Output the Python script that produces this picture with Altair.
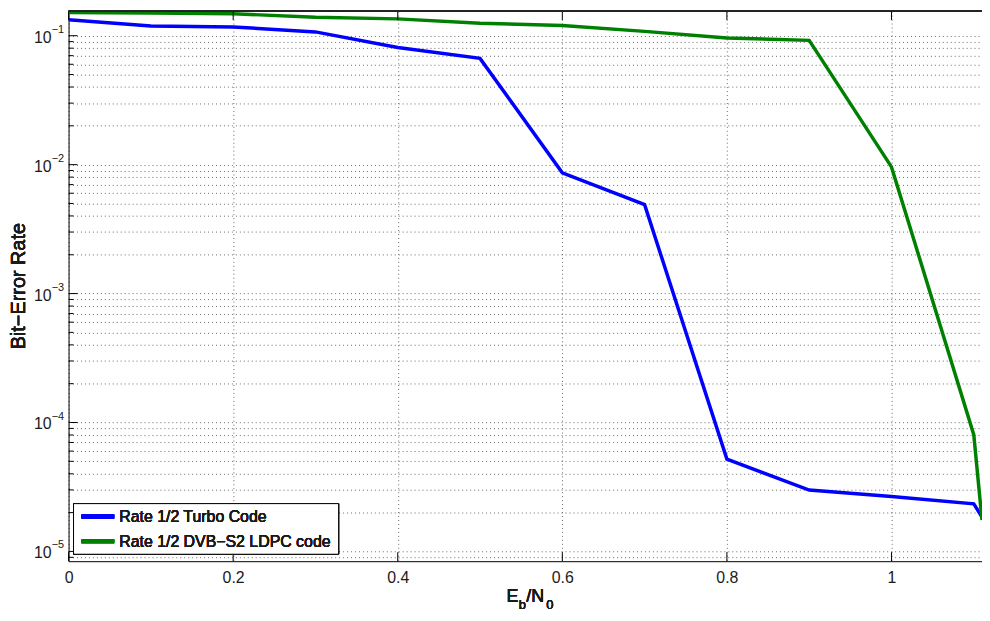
import altair as alt
import pandas as pd

# ---- data ----
ebn0 = [0.0, 0.1, 0.2, 0.3, 0.4, 0.5, 0.6, 0.7, 0.8, 0.9, 1.0, 1.1, 1.11]
ber_turbo = [0.133, 0.119, 0.117, 0.107, 0.081, 0.0667, 0.00865, 0.00489,
             5.2e-5, 2.99e-5, 2.67e-5, 2.34e-5, 1.85e-5]
ber_ldpc = [0.151, 0.150, 0.148, 0.139, 0.135, 0.125, 0.120, 0.108,
            0.096, 0.092, 0.0096, 8.05e-5, 1.75e-5]
series_names = ["Rate 1/2 Turbo Code", "Rate 1/2 DVB\u2212S2 LDPC code"]
series_colors = ["#0000ff", "#008000"]

x_ticks = [0.0, 0.2, 0.4, 0.6, 0.8, 1.0]
y_major = [1e-1, 1e-2, 1e-3, 1e-4, 1e-5]
y_exponents = ["\u22121", "\u22122", "\u22123", "\u22124", "\u22125"]
y_minor = [9e-6] + [m * d for d in [1e-5, 1e-4, 1e-3, 1e-2, 1e-1] for m in range(2, 10)]
y_minor = [v for v in y_minor if v <= 0.155]

X_DOMAIN = [0, 1.11]
Y_DOMAIN = [8.4e-6, 0.155]
W, H = 920, 554
FONT = "Liberation Sans"
TXT = "#1a1a1a"

xs = alt.Scale(domain=X_DOMAIN, nice=False, zero=False)
ys = alt.Scale(type="log", domain=Y_DOMAIN, nice=False)

grid_style = dict(grid=True, gridDash=[1, 3], gridColor="#6a6a6a", gridWidth=1,
                  domainColor="#000000", domainWidth=1, ticks=False)
x_axis = alt.Axis(values=x_ticks, labelFontSize=16, labelFont=FONT, labelColor=TXT,
                  labelFontWeight="normal", labelPadding=8, labelFlush=False,
                  labelExpr="datum.value == 0 ? '0' : format(datum.value, '.1~f')",
                  **grid_style)
y_axis = alt.Axis(values=y_major + y_minor, labels=False, **grid_style)


def X(field):
    return alt.X(field, type="quantitative", scale=xs, title=None, axis=x_axis)


def Y(field):
    return alt.Y(field, type="quantitative", scale=ys, title=None, axis=y_axis)


df = pd.DataFrame({
    "x": ebn0 * 2,
    "y": ber_turbo + ber_ldpc,
    "series": [series_names[0]] * len(ebn0) + [series_names[1]] * len(ebn0),
})
df_xt = pd.DataFrame({"x": x_ticks})
df_ymaj = pd.DataFrame({"y": y_major, "e": y_exponents})
df_ymin = pd.DataFrame({"y": y_minor})

# data lines (also carry the axes and grid)
lines = alt.Chart(df).mark_line(strokeWidth=3.5, clip=True).encode(
    x=X("x"),
    y=Y("y"),
    color=alt.Color("series:N", scale=alt.Scale(domain=series_names, range=series_colors),
                    legend=None),
    detail="series:N",
)

# inward ticks
xt_bottom = alt.Chart(df_xt).mark_rule(color="#000", strokeWidth=1).encode(
    x=X("x"), y=alt.value(H), y2=alt.value(H - 9))
xt_top = alt.Chart(df_xt).mark_rule(color="#000", strokeWidth=1).encode(
    x=X("x"), y=alt.value(0), y2=alt.value(9))
yt_major = alt.Chart(df_ymaj).mark_rule(color="#000", strokeWidth=1).encode(
    y=Y("y"), x=alt.value(0), x2=alt.value(9))
yt_minor = alt.Chart(df_ymin).mark_rule(color="#000", strokeWidth=1).encode(
    y=Y("y"), x=alt.value(0), x2=alt.value(5))
top_border = alt.Chart(df_xt).mark_rule(color="#222", strokeWidth=1.5).encode(
    x=alt.value(0), x2=alt.value(W + 1), y=alt.value(0))

# y labels 10^e
ylab_base = alt.Chart(df_ymaj).mark_text(align="right", baseline="middle", font=FONT,
                                         fontSize=16, fontWeight="normal", color=TXT,
                                         dy=2).encode(
    y=Y("y"), x=alt.value(-17), text=alt.value("10"))
ylab_exp = alt.Chart(df_ymaj).mark_text(align="left", baseline="middle", font=FONT,
                                        fontSize=11, fontWeight="normal", color=TXT,
                                        dy=-6).encode(
    y=Y("y"), x=alt.value(-17), text="e:N")

# legend (drawn manually)
leg_box = alt.Chart(df_xt).mark_rect(fill="white", stroke="#000", strokeWidth=1).encode(
    x=alt.value(5), x2=alt.value(272), y=alt.value(496), y2=alt.value(547))
leg_layers = []
for i, (name, col) in enumerate(zip(series_names, series_colors)):
    yy = 509 + 25 * i
    leg_layers.append(alt.Chart(df_xt).mark_rule(color=col, strokeWidth=4).encode(
        x=alt.value(13), x2=alt.value(46), y=alt.value(yy)))
    leg_layers.append(alt.Chart(df_xt).mark_text(align="left", baseline="middle", font=FONT,
                                                 fontSize=16, fontWeight="normal",
                                                 color=TXT).encode(
        x=alt.value(51), y=alt.value(yy + 1), text=alt.value(name)))


def txt(s, x, y, size, **kw):
    return alt.Chart(df_xt).mark_text(font=FONT, fontSize=size, fontWeight="normal",
                                      color=TXT, **kw).encode(
        x=alt.value(x), y=alt.value(y), text=alt.value(s))


title_parts = [
    txt("E", 441, 595, 18, align="left", baseline="alphabetic"),
    txt("b", 453.5, 602, 13, align="left", baseline="alphabetic"),
    txt("/N", 461, 595, 18, align="left", baseline="alphabetic"),
    txt("0", 481, 602, 13, align="left", baseline="alphabetic"),
    txt("Bit\u2212Error Rate", -50, 277, 20, align="center", baseline="middle", angle=270),
]

chart = alt.layer(
    lines, xt_bottom, xt_top, yt_major, yt_minor, top_border,
    ylab_base, ylab_exp, leg_box, *leg_layers, *title_parts,
).properties(
    width=W, height=H,
    autosize=alt.AutoSizeParams(type="none"),
    padding={"left": 61, "top": 1, "right": 0, "bottom": 50},
    background="white",
).configure_view(stroke=None)

chart.save("out.html", embed_options={"renderer": "svg", "actions": False})
